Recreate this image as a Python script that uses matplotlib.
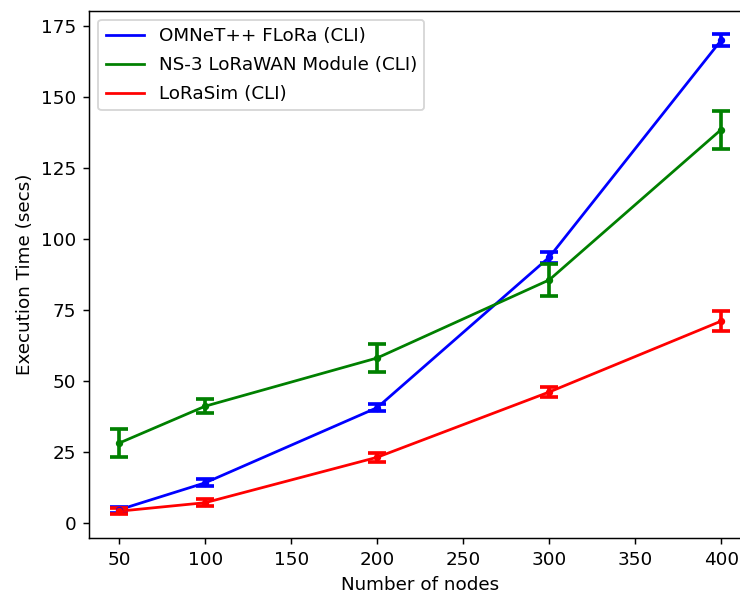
import matplotlib.pyplot as plt

nodes = [50, 100, 200, 300, 400]

omnet = [4.5, 14, 40.5, 93.5, 170]
omnet_err = [1, 1.2, 1.2, 2, 2]

ns3 = [28, 41, 58, 85.5, 138.5]
ns3_err = [5, 2.5, 5, 5.5, 6.7]

lorasim = [4, 7, 23, 46, 71]
lorasim_err = [1, 1.3, 1.5, 1.8, 3.5]

series = [
    ("OMNeT++ FLoRa (CLI)", omnet, omnet_err, "blue"),
    ("NS-3 LoRaWAN Module (CLI)", ns3, ns3_err, "green"),
    ("LoRaSim (CLI)", lorasim, lorasim_err, "red"),
]

DPI = 132
fig = plt.figure(figsize=(740 / DPI, 597 / DPI), dpi=DPI)
ax = fig.add_axes([0.1203, 0.0988, 0.895, 0.8836])

for label, vals, err, color in series:
    ax.plot(nodes, vals, color=color, label=label)
    ax.errorbar(nodes, vals, yerr=err, fmt=".", color=color,
                capsize=5, elinewidth=2, capthick=2)

ax.set_xlabel("Number of nodes")
ax.set_ylabel("Execution Time (secs)")
ax.legend(loc="upper left", handlelength=2.1, labelspacing=0.6)

fig.savefig("out.png", dpi=DPI)
